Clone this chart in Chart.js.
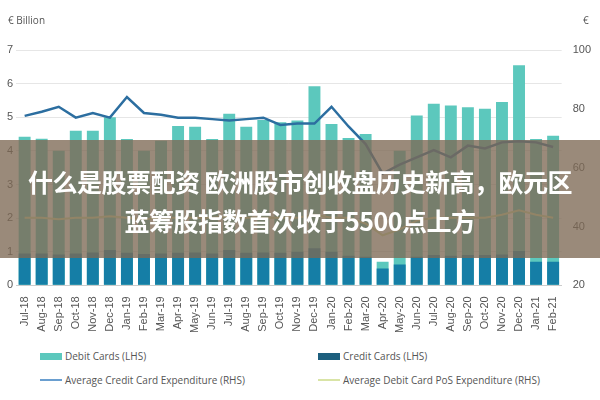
<!DOCTYPE html><html><head><meta charset="utf-8">
<script src="https://cdn.jsdelivr.net/npm/chart.js@4"></script>
<style>
body{margin:0;width:600px;height:400px;background:#fff;font-family:"Open Sans",sans-serif;position:relative;overflow:hidden}
#wrap{position:absolute;left:0;top:0;width:600px;height:340px}
.u{position:absolute;font-size:10px;color:#555}
#band{position:absolute;left:0;top:140px;width:600px;height:118px;background:rgba(125,105,85,0.78);color:#fff;font-family:"Noto Sans CJK SC";font-weight:bold;font-size:25px;text-align:center;line-height:39px;padding-top:22px;box-sizing:border-box;white-space:nowrap;letter-spacing:-0.5px}
.lg{position:absolute;font-size:10px;color:#555;display:flex;align-items:center}
.sw{display:inline-block;width:22px;margin-right:3px}
</style></head><body>
<div id="wrap"><canvas id="c" width="600" height="336"></canvas></div>
<div class="u" style="left:8px;top:13px">€ Billion</div>
<div class="u" style="left:583px;top:13px">€</div>
<div id="band">什么是股票配资 欧洲股市创收盘历史新高，欧元区<br>蓝筹股指数首次收于5500点上方</div>
<div class="lg" style="left:40px;top:349px"><span class="sw" style="height:7px;background:#5cc8bd"></span>Debit Cards (LHS)</div>
<div class="lg" style="left:40px;top:373px"><span class="sw" style="height:2px;background:#6a9fd0"></span>Average Credit Card Expenditure (RHS)</div>
<div class="lg" style="left:318px;top:349px"><span class="sw" style="height:7px;background:#1d5f7e"></span>Credit Cards (LHS)</div>
<div class="lg" style="left:318px;top:373px"><span class="sw" style="height:2px;background:#d9e4a6"></span>Average Debit Card PoS Expenditure (RHS)</div>
<script>
const labels=["Jul-18","Aug-18","Sep-18","Oct-18","Nov-18","Dec-18","Jan-19","Feb-19","Mar-19","Apr-19","May-19","Jun-19","Jul-19","Aug-19","Sep-19","Oct-19","Nov-19","Dec-19","Jan-20","Feb-20","Mar-20","Apr-20","May-20","Jun-20","Jul-20","Aug-20","Sep-20","Oct-20","Nov-20","Dec-20","Jan-21","Feb-21"];
const debitCards=[4.42,4.36,4.0,4.6,4.6,5.0,4.35,4.0,4.3,4.74,4.72,4.35,5.1,4.72,4.92,4.85,4.9,5.92,4.8,4.38,4.5,0.7,4.0,5.05,5.4,5.35,5.3,5.25,5.45,6.55,4.35,4.45];
const creditCards=[0.95,0.95,0.92,0.95,0.98,1.05,0.97,0.93,0.95,0.97,0.98,0.95,1.05,0.97,0.98,0.97,1.0,1.1,1.0,0.88,0.85,0.5,0.62,0.85,0.9,0.88,0.9,0.9,0.92,1.02,0.7,0.7];
const avgCredit=[77.6,79,80.7,77,78.6,77,84,78.6,78,77,77,76.5,76,76.5,77,74.5,75,75,80.7,74,68,58,61,63.5,66,63.5,67.5,66.5,68.6,69,68.6,67];
const avgDebit=[43,43,42.5,43,43,43.5,43,42.5,43,43,43,43,43.5,43,43,43,43,44,43,43,41,37,39,42,43,43,43,43,44,45.5,44,43];
new Chart(document.getElementById('c'),{data:{labels,datasets:[
{type:'line',data:avgCredit,yAxisID:'y1',borderColor:'#2c6ea0',borderWidth:2.5,pointRadius:0,order:0,tension:0},
{type:'line',data:avgDebit,yAxisID:'y1',borderColor:'#d9e4a6',borderWidth:2,pointRadius:0,order:0,tension:0},
{type:'bar',data:creditCards,yAxisID:'y',backgroundColor:'#157ea6',order:1,categoryPercentage:0.7,barPercentage:1},
{type:'bar',data:debitCards,yAxisID:'y',backgroundColor:'#5cc8bd',order:2,categoryPercentage:0.7,barPercentage:1}
]},options:{responsive:false,animation:false,layout:{padding:{top:50,left:4,right:6}},
plugins:{legend:{display:false},tooltip:{enabled:false}},
scales:{x:{stacked:true,grid:{display:false},border:{color:'#ccc'},ticks:{maxRotation:90,minRotation:90,autoSkip:false,color:'#555',font:{size:11}}},
y:{stacked:false,min:0,max:7,ticks:{stepSize:1,color:'#555',font:{size:11}},grid:{color:'#e6e6e6',drawTicks:false},border:{display:false}},
y1:{position:'right',min:20,max:100,ticks:{stepSize:20,color:'#555',font:{size:11}},grid:{display:false},border:{display:false}}}}});
</script></body></html>
